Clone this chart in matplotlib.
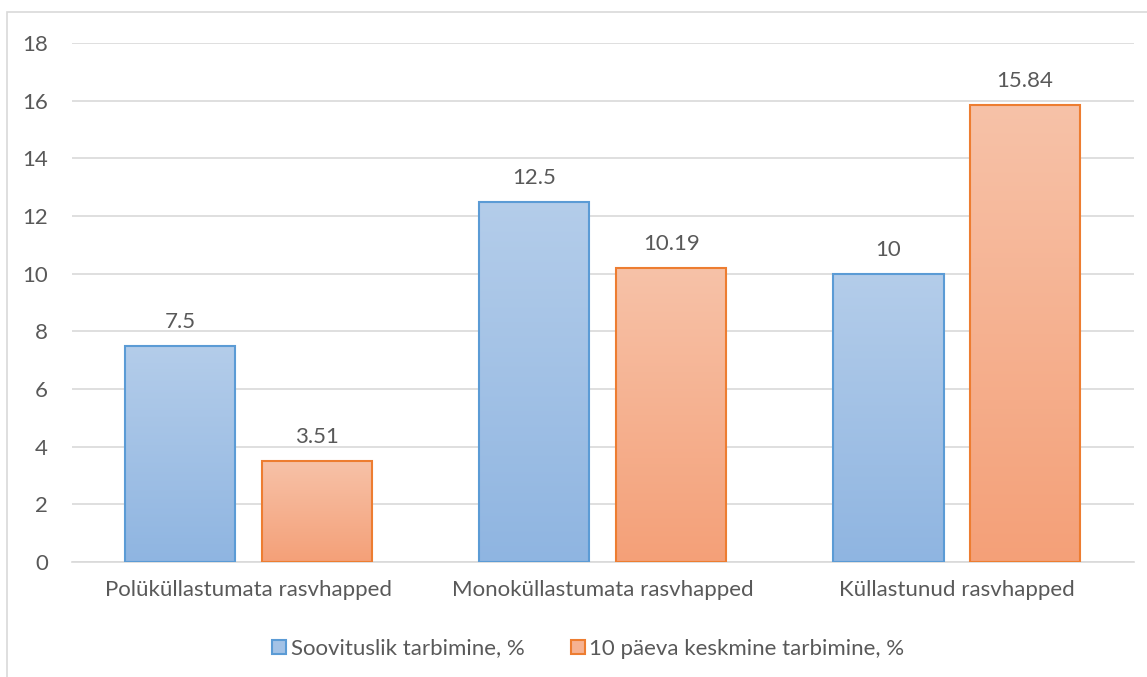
import matplotlib.pyplot as plt
import numpy as np
from matplotlib.patches import Rectangle
from matplotlib.colors import LinearSegmentedColormap

categories = ["Polüküllastumata rasvhapped", "Monoküllastumata rasvhapped", "Küllastunud rasvhapped"]
soovituslik = [7.5, 12.5, 10]
keskmine = [3.51, 10.19, 15.84]
labels_soov = ["7.5", "12.5", "10"]
labels_kesk = ["3.51", "10.19", "15.84"]
series_names = ["Soovituslik tarbimine, %", "10 päeva keskmine tarbimine, %"]

plt.rcParams['font.family'] = ['Lato', 'DejaVu Sans']
text_col = "#595959"
fs = 16

fig = plt.figure(figsize=(11.47, 6.77), dpi=100)
ax = fig.add_axes([0.0625, 0.170, 0.926, 0.7666])

# outer chart border (image is cropped on right/bottom)
fig.patches.append(Rectangle((0.006, -0.05), 1.2, 1.032, transform=fig.transFigure,
                             fill=False, edgecolor="#d9d9d9", lw=1.2))

x = np.arange(len(categories))
w = 0.311
off = 0.193

blue_cm = LinearSegmentedColormap.from_list("b", ["#8fb5e1", "#b4cdea"])
orange_cm = LinearSegmentedColormap.from_list("o", ["#f4a078", "#f7c2a8"])
grad = np.linspace(0, 1, 256).reshape(-1, 1)

def gradient_bars(xs, vals, cmap, edge):
    bars = ax.bar(xs, vals, w, facecolor="none", edgecolor=edge, linewidth=1.5, zorder=3)
    for b in bars:
        x0, y0 = b.get_x(), b.get_y()
        im = ax.imshow(grad, cmap=cmap, origin="lower", aspect="auto",
                       extent=[x0, x0 + b.get_width(), y0, y0 + b.get_height()], zorder=2)
        im.set_clip_path(b)
    return bars

b1 = gradient_bars(x - off, soovituslik, blue_cm, "#5b9bd5")
b2 = gradient_bars(x + off, keskmine, orange_cm, "#ed7d31")

for xi, v, t in zip(x - off, soovituslik, labels_soov):
    ax.annotate(t, (xi, v), xytext=(0, 10), textcoords="offset points",
                ha="center", va="bottom", fontsize=fs, color=text_col)
for xi, v, t in zip(x + off, keskmine, labels_kesk):
    ax.annotate(t, (xi, v), xytext=(0, 10), textcoords="offset points",
                ha="center", va="bottom", fontsize=fs, color=text_col)

ax.set_xlim(-0.5, 2.5)
ax.set_ylim(0, 18)
ax.set_yticks(range(0, 19, 2))
ax.set_xticks(x)
ax.set_xticklabels(categories)
ax.tick_params(axis="y", length=0, pad=17, labelsize=fs, labelcolor=text_col)
ax.tick_params(axis="x", length=0, pad=13, labelsize=fs, labelcolor=text_col)
ax.grid(axis="y", color="#d9d9d9", lw=1.2, zorder=0)
ax.set_axisbelow(True)
for s in ["top", "right", "left"]:
    ax.spines[s].set_visible(False)
ax.spines["bottom"].set_color("#d9d9d9")
ax.spines["bottom"].set_linewidth(1.2)

handles = [Rectangle((0, 0), 1, 1, facecolor="#a3c2e6", edgecolor="#5b9bd5", lw=1.5),
           Rectangle((0, 0), 1, 1, facecolor="#f6b292", edgecolor="#ed7d31", lw=1.5)]
fig.legend(handles, series_names, loc="center", bbox_to_anchor=(0.513, 0.042), ncol=2,
           frameon=False, fontsize=fs, labelcolor=text_col, handlelength=0.62,
           handleheight=0.62, handletextpad=0.2, columnspacing=2.1)

fig.savefig("out.png", dpi=100)
